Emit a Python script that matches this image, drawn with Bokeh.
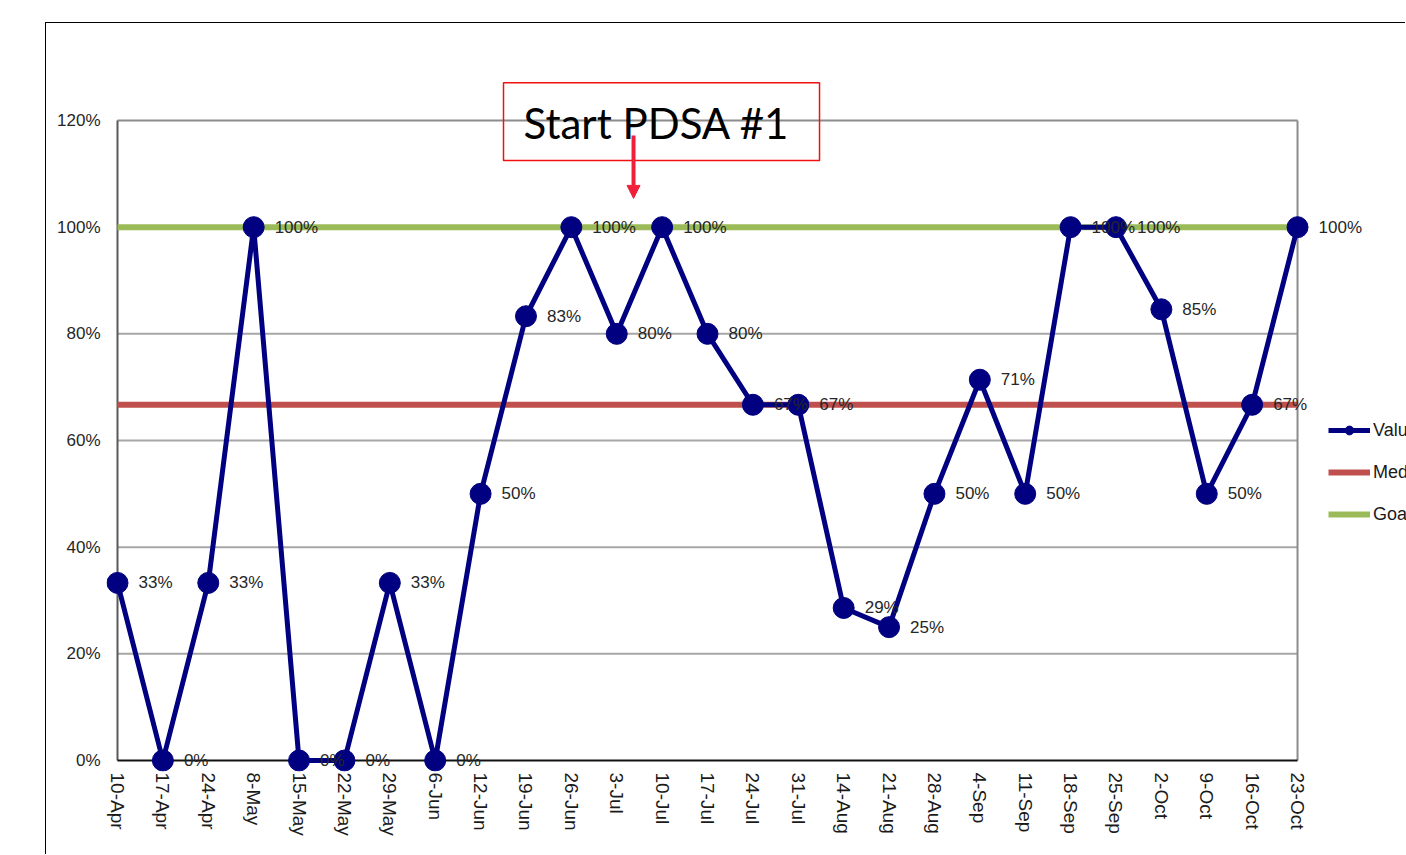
import math
from bokeh.plotting import figure
from bokeh.core.properties import value
from bokeh.models import (Range1d, FixedTicker, ColumnDataSource, LabelSet, Label,
                          BoxAnnotation, Arrow, NormalHead, Legend, LegendItem)
from bokeh.embed import file_html
from bokeh.resources import INLINE

# ---------------- data ----------------
dates = ["10-Apr", "17-Apr", "24-Apr", "8-May", "15-May", "22-May", "29-May", "6-Jun",
         "12-Jun", "19-Jun", "26-Jun", "3-Jul", "10-Jul", "17-Jul", "24-Jul", "31-Jul",
         "14-Aug", "21-Aug", "28-Aug", "4-Sep", "11-Sep", "18-Sep", "25-Sep", "2-Oct",
         "9-Oct", "16-Oct", "23-Oct"]
values = [33.3, 0, 33.3, 100, 0, 0, 33.3, 0, 50, 83.3, 100, 80, 100, 80, 66.7, 66.7,
          28.6, 25, 50, 71.4, 50, 100, 100, 84.6, 50, 66.7, 100]
median_value = 66.7
goal_value = 100
y_ticks = [0, 20, 40, 60, 80, 100, 120]
y_tick_labels = ["0%", "20%", "40%", "60%", "80%", "100%", "120%"]
series_names = ["Value", "Median", "Goal"]
annotation_text = "Start PDSA #1"
annotation_date = "3-Jul"

NAVY = "#000080"
RED = "#C0504D"
GREEN = "#9BBB59"
FONT = "Liberation Sans"

xs = list(range(len(dates)))
x_last = xs[-1]
labels = [f"{round(v)}%" for v in values]
src = ColumnDataSource(dict(x=xs, y=values, lab=labels))

p = figure(width=1360, height=832,
           x_range=Range1d(-0.2424, 28.401), y_range=Range1d(-2.0625, 138.19),
           output_backend="svg", toolbar_location=None,
           min_border_left=60, min_border_right=0, min_border_top=0, min_border_bottom=84,
           margin=(22, 0, 0, 45),
           styles={"border-left": "1px solid black", "border-top": "1px solid black"})
p.outline_line_color = None
p.xgrid.visible = False
p.ygrid.visible = False
p.background_fill_color = "white"
p.border_fill_color = "white"

# grid lines (between axes only)
for gy in y_ticks[1:-1]:
    p.segment(x0=0, y0=gy, x1=x_last, y1=gy, line_color="#a6a6a6", line_width=2)
# plot-area border
p.segment(x0=0, y0=y_ticks[-1], x1=x_last, y1=y_ticks[-1], line_color="#8c8c8c", line_width=2)
p.segment(x0=x_last, y0=0, x1=x_last, y1=y_ticks[-1], line_color="#8c8c8c", line_width=2)
p.segment(x0=0, y0=0, x1=0, y1=y_ticks[-1], line_color="#595959", line_width=2)
p.segment(x0=0, y0=0, x1=x_last, y1=0, line_color="#111111", line_width=2)

med_r = p.line([0, x_last], [median_value, median_value], line_color=RED, line_width=6)
goal_r = p.line([0, x_last], [goal_value, goal_value], line_color=GREEN, line_width=6)
val_line = p.line("x", "y", source=src, line_color=NAVY, line_width=5)
val_pts = p.scatter("x", "y", source=src, size=21, fill_color=NAVY, line_color=NAVY)

p.add_layout(LabelSet(x="x", y="y", text="lab", source=src, x_offset=21,
                      text_baseline="middle", text_align="left",
                      text_font=value(FONT), text_font_size=value("17px"),
                      text_color=value("#262626")))

# axes
p.xaxis.ticker = FixedTicker(ticks=xs)
p.xaxis.major_label_overrides = {i: d for i, d in zip(xs, dates)}
p.xaxis.major_label_orientation = -math.pi / 2
p.xaxis.major_label_standoff = -5
p.xaxis.major_label_text_font = FONT
p.xaxis.major_label_text_font_size = "19px"
p.xaxis.major_label_text_color = "#1a1a1a"
p.yaxis.ticker = FixedTicker(ticks=y_ticks)
p.yaxis.major_label_overrides = {t: s for t, s in zip(y_ticks, y_tick_labels)}
p.yaxis.major_label_standoff = 0
p.yaxis.major_label_text_font = FONT
p.yaxis.major_label_text_font_size = "17px"
p.yaxis.major_label_text_color = "#262626"
for ax in (p.xaxis, p.yaxis):
    ax.axis_line_color = None
    ax.major_tick_line_color = None
    ax.minor_tick_line_color = None

# legend (to the right of the plot area)
legend = Legend(items=[LegendItem(label=series_names[0], renderers=[val_line, val_pts]),
                       LegendItem(label=series_names[1], renderers=[med_r]),
                       LegendItem(label=series_names[2], renderers=[goal_r])],
                location=(1222, 246), border_line_color=None, background_fill_alpha=0,
                padding=0, margin=0, spacing=20, glyph_height=22, glyph_width=42,
                label_height=22, label_standoff=3, label_text_font=FONT,
                label_text_font_size="18px", label_text_color="#1a1a1a")
p.add_layout(legend)

# annotation "Start PDSA #1"
ax_i = dates.index(annotation_date)
p.add_layout(BoxAnnotation(left=ax_i - 2.495, right=ax_i + 4.468, top=127.1, bottom=112.5,
                           fill_color=None, fill_alpha=0, line_color="#f01010",
                           line_alpha=1.0, line_width=1.5))
p.add_layout(Label(x=ax_i + 0.88, y=119.6, text=annotation_text, text_align="center",
                   text_baseline="middle", text_font="Lato", text_font_size="42px",
                   text_color="black"))
p.add_layout(Arrow(end=NormalHead(size=13, fill_color="#f0203a", line_color="#f0203a"),
                   x_start=ax_i + 0.37, y_start=117.2, x_end=ax_i + 0.37, y_end=105.4,
                   line_color="#f0203a", line_width=4))

open("out.html", "w").write(file_html(p, INLINE))
